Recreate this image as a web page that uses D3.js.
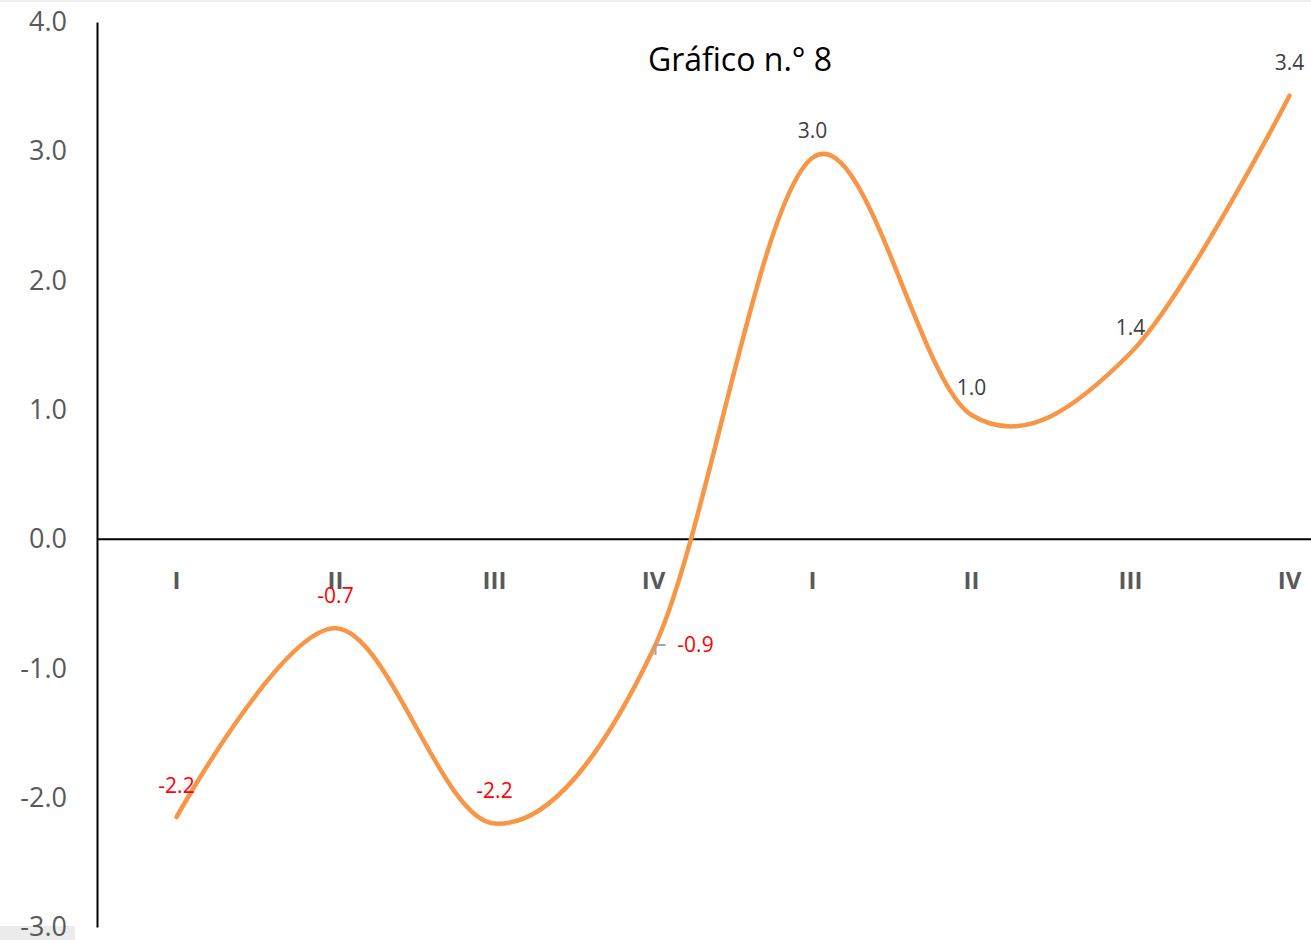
<!DOCTYPE html>
<html lang="es">
<head>
<meta charset="UTF-8">
<title>Gráfico n.° 8</title>
<script src="https://d3js.org/d3.v7.min.js"></script>
<style>
  body { margin: 0; background: #fff; font-family: 'Open Sans', 'Noto Sans', sans-serif; }
  svg { display: block; }
</style>
</head>
<body>
<svg width="1311" height="940"></svg>
<script>
// data
const categories = ["I", "II", "III", "IV", "I", "II", "III", "IV"];
const values = [-2.15, -0.69, -2.2, -0.85, 2.95, 0.96, 1.44, 3.43];
const labels = ["-2.2", "-0.7", "-2.2", "-0.9", "3.0", "1.0", "1.4", "3.4"];
const yTicks = [-3, -2, -1, 0, 1, 2, 3, 4];

const width = 1311, height = 940;
const svg = d3.select("svg");

const x = d3.scaleBand()
    .domain(d3.range(categories.length))
    .range([97, 97 + 159 * categories.length]);

const y = d3.scaleLinear()
    .domain([-3, 4])
    .range([927, 22]);

// faint frame edges
svg.append("rect").attr("x", 0).attr("y", 0).attr("width", width).attr("height", 2).attr("fill", "#f0f0f0");
svg.append("rect").attr("x", 0).attr("y", 926).attr("width", 75).attr("height", 14).attr("fill", "#ececec");

// y axis
const fmt = d => d3.format(".1f")(d).replace("\u2212", "-");
const yAxis = svg.append("g").attr("transform", "translate(97,0)")
    .call(d3.axisLeft(y).tickValues(yTicks).tickSize(0).tickPadding(30).tickFormat(fmt));
yAxis.select(".domain").attr("stroke", "#000").attr("stroke-width", 2);
yAxis.selectAll("text").attr("fill", "#595959").attr("font-size", 27).attr("font-family", "'Open Sans', sans-serif");

// x axis at zero
const xAxis = svg.append("g").attr("transform", `translate(0,${y(0)})`)
    .call(d3.axisBottom(x).tickSize(0).tickPadding(33).tickFormat(i => categories[i]));
xAxis.select(".domain").remove();
xAxis.append("line").attr("x1", 97).attr("x2", width).attr("stroke", "#000").attr("stroke-width", 2);
xAxis.selectAll("text").attr("fill", "#595959").attr("font-size", 24).attr("font-weight", "bold")
    .attr("font-family", "'Open Sans', sans-serif");

// smoothed line
const line = d3.line()
    .x((d, i) => x(i) + x.bandwidth() / 2)
    .y(d => y(d))
    .curve(d3.curveCardinal.tension(0));

svg.append("path")
    .datum(values)
    .attr("d", line)
    .attr("fill", "none")
    .attr("stroke", "#f79646")
    .attr("stroke-width", 4.5)
    .attr("stroke-linecap", "round");

// data labels
const offsets = [[0, -24], [0, -25], [0, -26], [42, 3], [0, -20], [0, -20], [0, -18], [0, -26]];
svg.selectAll(".dl")
    .data(values)
    .enter()
    .append("text")
    .attr("class", "dl")
    .attr("x", (d, i) => x(i) + x.bandwidth() / 2 + offsets[i][0])
    .attr("y", (d, i) => y(d) + offsets[i][1])
    .attr("text-anchor", "middle")
    .attr("font-size", 21)
    .attr("fill", d => d < 0 ? "#ff0000" : "#404040")
    .text((d, i) => labels[i]);

// leader line for the -0.9 label
const lx = x(3) + x.bandwidth() / 2, ly = y(values[3]);
svg.append("path")
    .attr("d", `M${lx + 2},${ly + 6} L${lx + 2},${ly - 4} L${lx + 12},${ly - 4}`)
    .attr("fill", "none").attr("stroke", "#a6a6a6").attr("stroke-width", 2);

// title
svg.append("text")
    .attr("x", 740).attr("y", 71)
    .attr("text-anchor", "middle")
    .attr("font-size", 32)
    .attr("fill", "#000")
    .text("Gráfico n.° 8");
</script>
</body>
</html>
